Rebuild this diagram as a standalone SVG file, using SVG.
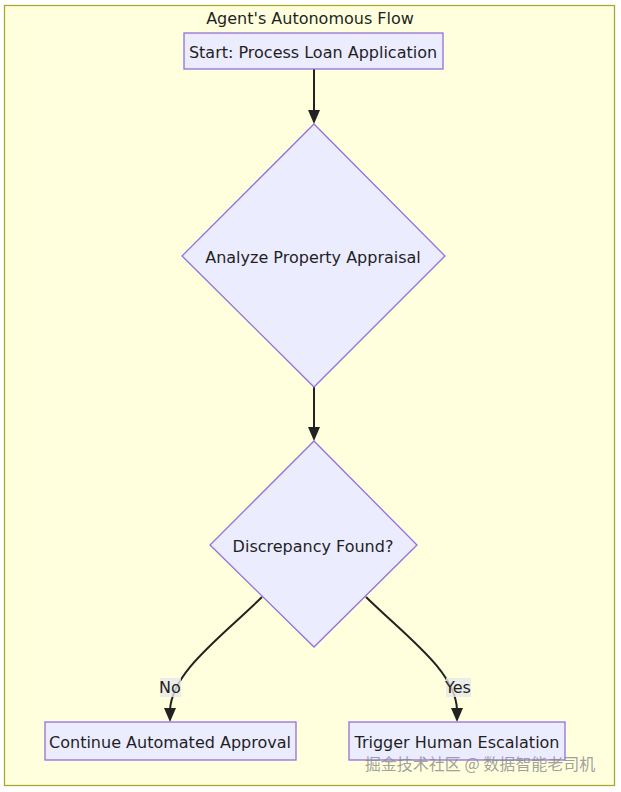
<svg xmlns="http://www.w3.org/2000/svg" width="621" height="792" viewBox="0 0 621 792">
<defs>
<style>
.node{fill:#ececff;stroke:#9370db;stroke-width:1.3}
.t{font-family:"DejaVu Sans",Verdana,sans-serif;font-size:16px;fill:#1f1f1f;text-anchor:middle;dominant-baseline:central}
.e{fill:none;stroke:#222;stroke-width:2}
.ah{fill:#222}
.lb{fill:#e8e8e8;opacity:0.8}
</style>
</defs>
<rect width="621" height="792" fill="#ffffff"/>
<g id="cluster">
<rect x="4.5" y="5.5" width="610" height="780" fill="#ffffde" stroke="#aaaa33" stroke-width="1.3"/>
<text class="t" x="310" y="18">Agent's Autonomous Flow</text>
</g>
<g id="connectors">
<path class="e" d="M314,69 L314,112"/>
<path class="ah" d="M308,110 L320,110 L314,124 z"/>
<path class="e" d="M314,387 L314,429"/>
<path class="ah" d="M308,427 L320,427 L314,441 z"/>
<path class="e" d="M262,597 C220,638 172,672 170,710"/>
<path class="ah" d="M164,708 L176,708 L170,722 z"/>
<path class="e" d="M366,597 C408,638 456,672 457,710"/>
<path class="ah" d="M451,708 L463,708 L457,722 z"/>
<g id="label-no">
<rect class="lb" x="160" y="678" width="21" height="19"/>
<text class="t" x="170" y="687">No</text>
</g>
<g id="label-yes">
<rect class="lb" x="446" y="678" width="25" height="19"/>
<text class="t" x="458" y="687">Yes</text>
</g>
</g>
<g id="start">
<rect class="node" x="184" y="33" width="259" height="36"/>
<text class="t" x="313" y="52">Start: Process Loan Application</text>
</g>
<g id="analyze">
<polygon class="node" points="314,124 445,256 314,387 182,256"/>
<text class="t" x="313" y="257">Analyze Property Appraisal</text>
</g>
<g id="discrepancy">
<polygon class="node" points="314,441 417,545 314,647 210,545"/>
<text class="t" x="313" y="546">Discrepancy Found?</text>
</g>
<g id="continue">
<rect class="node" x="45" y="722" width="251" height="38"/>
<text class="t" x="170" y="742">Continue Automated Approval</text>
</g>
<g id="trigger">
<rect class="node" x="349" y="722" width="216" height="38"/>
<text class="t" x="457" y="742">Trigger Human Escalation</text>
</g>
<text x="480" y="763" font-family="'Noto Sans CJK SC',sans-serif" font-size="16" fill="#888" fill-opacity="0.8" text-anchor="middle" dominant-baseline="central">掘金技术社区 @ 数据智能老司机</text>
</svg>
